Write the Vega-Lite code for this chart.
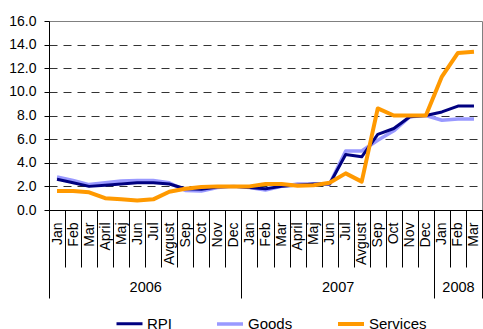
{
  "$schema": "https://vega.github.io/schema/vega-lite/v6.json",
  "width": 433,
  "height": 189,
  "autosize": {"type": "none"},
  "padding": {"left": 49, "top": 21, "right": 1, "bottom": 119},
  "config": {
    "font": "Liberation Sans",
    "view": {"stroke": "#808080", "strokeWidth": 1}
  },
  "data": {
    "values": [
      {"period": "Jan|2006", "RPI": 2.6, "Goods": 2.8, "Services": 1.6},
      {"period": "Feb|2006", "RPI": 2.3, "Goods": 2.5, "Services": 1.6},
      {"period": "Mar|2006", "RPI": 2.0, "Goods": 2.15, "Services": 1.5},
      {"period": "April|2006", "RPI": 2.1, "Goods": 2.3, "Services": 1.0},
      {"period": "Maj|2006", "RPI": 2.2, "Goods": 2.45, "Services": 0.9},
      {"period": "Jun|2006", "RPI": 2.3, "Goods": 2.5, "Services": 0.8},
      {"period": "Jul|2006", "RPI": 2.3, "Goods": 2.5, "Services": 0.9},
      {"period": "Avgust|2006", "RPI": 2.2, "Goods": 2.3, "Services": 1.55},
      {"period": "Sep|2006", "RPI": 1.8, "Goods": 1.65, "Services": 1.8},
      {"period": "Oct|2006", "RPI": 1.75, "Goods": 1.6, "Services": 1.95},
      {"period": "Nov|2006", "RPI": 1.95, "Goods": 1.9, "Services": 2.0},
      {"period": "Dec|2006", "RPI": 2.0, "Goods": 2.0, "Services": 2.0},
      {"period": "Jan|2007", "RPI": 1.9, "Goods": 1.9, "Services": 2.0},
      {"period": "Feb|2007", "RPI": 1.8, "Goods": 1.7, "Services": 2.2},
      {"period": "Mar|2007", "RPI": 2.0, "Goods": 2.0, "Services": 2.2},
      {"period": "April|2007", "RPI": 2.1, "Goods": 2.2, "Services": 2.05},
      {"period": "Maj|2007", "RPI": 2.2, "Goods": 2.2, "Services": 2.1},
      {"period": "Jun|2007", "RPI": 2.2, "Goods": 2.2, "Services": 2.3},
      {"period": "Jul|2007", "RPI": 4.7, "Goods": 5.0, "Services": 3.1},
      {"period": "Avgust|2007", "RPI": 4.5, "Goods": 5.0, "Services": 2.4},
      {"period": "Sep|2007", "RPI": 6.4, "Goods": 5.9, "Services": 8.6},
      {"period": "Oct|2007", "RPI": 6.9, "Goods": 6.7, "Services": 8.0},
      {"period": "Nov|2007", "RPI": 7.9, "Goods": 7.9, "Services": 8.0},
      {"period": "Dec|2007", "RPI": 8.0, "Goods": 8.0, "Services": 8.0},
      {"period": "Jan|2008", "RPI": 8.3, "Goods": 7.6, "Services": 11.3},
      {"period": "Feb|2008", "RPI": 8.8, "Goods": 7.7, "Services": 13.3},
      {"period": "Mar|2008", "RPI": 8.8, "Goods": 7.7, "Services": 13.4}
    ]
  },
  "transform": [{"fold": ["Goods", "RPI", "Services"], "as": ["series", "value"]}],
  "layer": [
    {
      "mark": {"type": "line", "strokeJoin": "round", "strokeCap": "butt"},
      "encoding": {
        "x": {
          "field": "period",
          "type": "ordinal",
          "sort": null,
          "scale": {"type": "band", "paddingInner": 0, "paddingOuter": 0},
          "axis": {
            "orient": "bottom",
            "title": null,
            "tickBand": "extent",
            "tickSize": 57,
            "tickColor": "#000000",
            "tickWidth": 1,
            "domainColor": "#000000",
            "labelExpr": "isValid(datum.value) ? split(datum.value, '|')[0] : ''",
            "labelAngle": 270,
            "labelAlign": "right",
            "labelBaseline": "middle",
            "labelFontSize": 14,
            "labelColor": "#000000",
            "labelPadding": -45,
            "labelOverlap": false,
            "labelBound": false
          }
        },
        "y": {
          "field": "value",
          "type": "quantitative",
          "scale": {"domain": [0, 16], "nice": false},
          "axis": {
            "title": null,
            "values": [0, 2, 4, 6, 8, 10, 12, 14, 16],
            "format": ".1f",
            "labelFontSize": 14,
            "labelColor": "#000000",
            "tickSize": 5,
            "tickColor": "#000000",
            "domainColor": "#000000",
            "labelPadding": 8,
            "grid": true,
            "gridColor": "#333333",
            "gridDash": [8, 6],
            "gridOpacity": {"condition": {"test": "datum.value >= 16 || datum.value <= 0", "value": 0}, "value": 1}
          }
        },
        "color": {
          "field": "series",
          "type": "nominal",
          "scale": {"domain": ["RPI", "Goods", "Services"], "range": ["#000080", "#9999FF", "#FF9900"]},
          "legend": {
            "orient": "none",
            "legendX": 66,
            "legendY": 288,
            "direction": "horizontal",
            "title": null,
            "symbolType": "stroke",
            "symbolSize": 676,
            "symbolStrokeWidth": 3,
            "labelFontSize": 15,
            "labelColor": "#000000",
            "labelOffset": 3,
            "columnPadding": 37
          }
        },
        "strokeWidth": {
          "field": "series",
          "type": "nominal",
          "scale": {"domain": ["RPI", "Goods", "Services"], "range": [3, 4, 3]},
          "legend": null
        }
      }
    },
    {
      "mark": {"type": "point", "opacity": 0},
      "encoding": {
        "x": {
          "field": "period",
          "type": "ordinal",
          "sort": null,
          "axis": {
            "orient": "bottom",
            "title": null,
            "domain": false,
            "tickBand": "extent",
            "tickSize": 88,
            "tickColor": "#000000",
            "tickOpacity": {"condition": {"test": "datum.index < 0 || datum.value == 'Dec|2006' || datum.value == 'Dec|2007' || datum.value == 'Mar|2008'", "value": 1}, "value": 0},
            "labelExpr": "datum.value == 'Jun|2006' ? '2006' : datum.value == 'Jun|2007' ? '2007' : datum.value == 'Feb|2008' ? '2008' : ''",
            "labelAngle": 0,
            "labelAlign": "center",
            "labelBaseline": "top",
            "labelFontSize": 14.5,
            "labelColor": "#000000",
            "labelPadding": -18,
            "labelOffset": {"condition": {"test": "datum.value == 'Feb|2008'", "value": 0}, "value": 8},
            "labelOverlap": false,
            "labelBound": false
          }
        }
      }
    }
  ],
  "resolve": {"axis": {"x": "independent"}}
}
